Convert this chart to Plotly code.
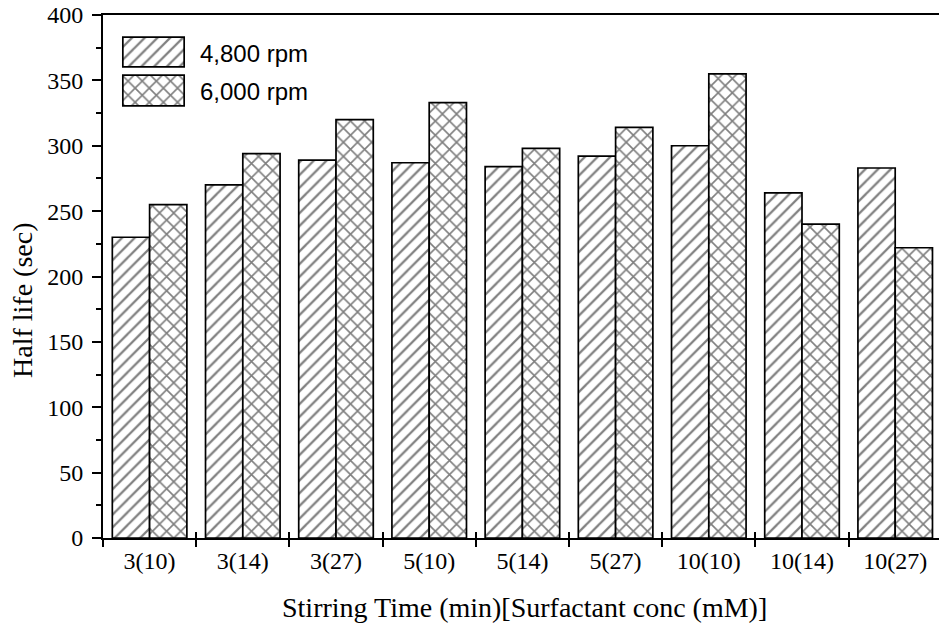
import plotly.graph_objects as go

categories = ["3(10)", "3(14)", "3(27)", "5(10)", "5(14)", "5(27)", "10(10)", "10(14)", "10(27)"]
rpm4800 = [230, 270, 289, 287, 284, 292, 300, 264, 283]
rpm6000 = [255, 294, 320, 333, 298, 314, 355, 240, 222]
series_names = ["4,800 rpm", "6,000 rpm"]
y_ticks = [0, 50, 100, 150, 200, 250, 300, 350, 400]

W, H = 939, 629
L, R, T, B = 103, 0, 15, 91
pw, ph = W - L - R, H - T - B

def px_x(p):
    return (p - L) / pw

def px_y(p):
    return (H - B - p) / ph

hatch = dict(shape="/", size=9, solidity=0.25, fgcolor="black", bgcolor="white")
cross = dict(shape="x", size=10, solidity=0.3, fgcolor="black", bgcolor="white")
outline = dict(color="black", width=1.7)

fig = go.Figure()
fig.add_trace(go.Bar(x=categories, y=rpm4800, name=series_names[0],
                     marker=dict(color="white", line=outline, pattern=hatch),
                     showlegend=False))
fig.add_trace(go.Bar(x=categories, y=rpm6000, name=series_names[1],
                     marker=dict(color="white", line=outline, pattern=cross),
                     showlegend=False))

# empty helper trace so the overlaid tick axis (inside ticks) is drawn
fig.add_trace(go.Scatter(x=[], y=[], xaxis="x2", yaxis="y", showlegend=False,
                         hoverinfo="skip"))

# legend swatches (drawn as tiny bar subplots so they can carry patterns)
fig.add_trace(go.Bar(x=[1], y=[0], orientation="h", width=1, xaxis="x3", yaxis="y3",
                     marker=dict(color="white", line=outline, pattern=hatch),
                     showlegend=False, hoverinfo="skip"))
fig.add_trace(go.Bar(x=[1], y=[0], orientation="h", width=1, xaxis="x4", yaxis="y4",
                     marker=dict(color="white", line=outline, pattern=cross),
                     showlegend=False, hoverinfo="skip"))

serif = "Liberation Serif"
sans = "Liberation Sans"
xr = [-0.5, 8.47]

sw_x0, sw_x1 = 121, 186
fig.update_layout(
    width=W, height=H,
    margin=dict(l=L, r=R, t=T, b=B, pad=0),
    paper_bgcolor="white", plot_bgcolor="white",
    barmode="group", bargap=0.2, bargroupgap=0,
    xaxis=dict(type="category", range=xr, tickson="boundaries", ticks="outside",
               ticklen=7, tickwidth=2, tickcolor="black", showline=True, linewidth=2,
               linecolor="black", mirror=True, showgrid=False, zeroline=False,
               tickfont=dict(family=serif, size=24, color="black")),
    xaxis2=dict(overlaying="x", anchor="y", side="bottom", type="linear", range=xr,
                tickmode="array",
                tickvals=[0.5, 1.5, 2.5, 3.5, 4.5, 5.5, 6.5, 7.5], ticks="inside",
                ticklen=6, tickwidth=2, tickcolor="black", showticklabels=False,
                showgrid=False, zeroline=False, showline=False),
    yaxis=dict(range=[0, 400], tickmode="array", tickvals=y_ticks, ticks="outside",
               ticklen=9, tickwidth=2, tickcolor="black", showline=True, linewidth=2,
               linecolor="black", showgrid=False, zeroline=False, ticklabelstandoff=4,
               minor=dict(dtick=25, ticks="outside", ticklen=5, tickwidth=2, tickcolor="black"),
               tickfont=dict(family=serif, size=24, color="black")),
    xaxis3=dict(domain=[px_x(sw_x0), px_x(sw_x1)], range=[-0.03, 1.03], anchor="y3",
                visible=False, fixedrange=True),
    yaxis3=dict(domain=[px_y(68), px_y(36)], range=[-0.54, 0.54], anchor="x3",
                visible=False, fixedrange=True),
    xaxis4=dict(domain=[px_x(sw_x0), px_x(sw_x1)], range=[-0.03, 1.03], anchor="y4",
                visible=False, fixedrange=True),
    yaxis4=dict(domain=[px_y(107), px_y(74)], range=[-0.54, 0.54], anchor="x4",
                visible=False, fixedrange=True),
    annotations=[
        dict(text="Stirring Time (min)[Surfactant conc (mM)]", xref="paper", yref="paper",
             x=px_x(524), y=px_y(607), xanchor="center", yanchor="middle", showarrow=False,
             font=dict(family=serif, size=28, color="black")),
        dict(text="Half life (sec)", xref="paper", yref="paper", textangle=-90,
             x=px_x(22), y=px_y(301), xanchor="center", yanchor="middle", showarrow=False,
             font=dict(family=serif, size=28, color="black")),
        dict(text=series_names[0], xref="paper", yref="paper", x=px_x(198), y=px_y(53),
             xanchor="left", yanchor="middle", showarrow=False,
             font=dict(family=sans, size=24, color="black")),
        dict(text=series_names[1], xref="paper", yref="paper", x=px_x(198), y=px_y(91),
             xanchor="left", yanchor="middle", showarrow=False,
             font=dict(family=sans, size=24, color="black")),
    ],
)

fig.write_html("out.html")
